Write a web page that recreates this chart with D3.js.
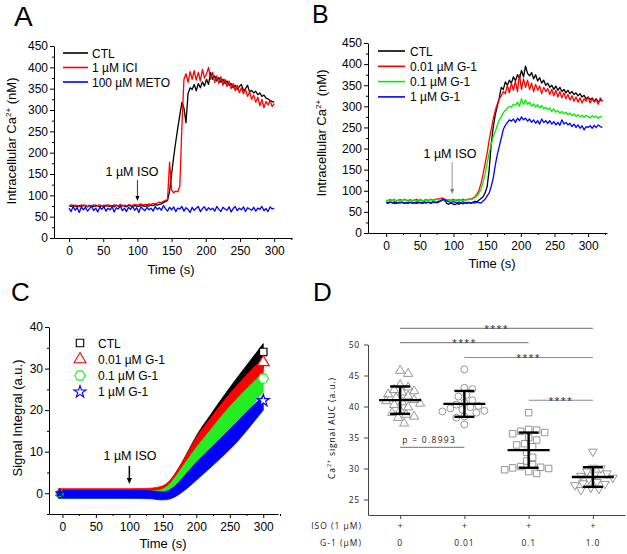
<!DOCTYPE html>
<html><head><meta charset="utf-8">
<script src="https://cdn.jsdelivr.net/npm/d3@7"></script>
<style>body{margin:0;background:#fff}svg{display:block}</style>
</head><body><svg id="c" width="627" height="554"></svg>
<script>
// ---------------- DATA ----------------
// Panel A (time step 3 s, 0..300 s)
const timeA = d3.range(0, 301, 3);
const ctlA = [
76,74,77,75,73,76,74,77,75,73,
76,75,74,77,75,73,76,74,77,75,
74,76,73,77,75,74,76,75,73,77,
75,74,76,75,74,77,75,74,76,75,
77,76,78,77,79,80,83,85,88,110,
150,190,225,258,288,318,305,270,338,352,
348,360,345,362,352,366,356,372,360,388,
372,380,368,376,365,372,362,368,358,362,
352,358,348,355,360,345,350,358,342,346,
340,344,336,340,332,335,328,326,322,320,
318];
const iciA = [
75,78,74,77,76,73,78,75,77,74,
77,75,78,74,76,78,75,77,74,78,
76,74,78,76,75,79,76,77,75,78,
77,76,79,77,78,80,77,79,78,80,
79,81,80,82,84,83,86,88,90,178,
112,106,110,108,122,260,372,385,365,390,
372,392,370,388,368,395,375,385,400,372,
388,365,380,362,378,358,372,355,368,350,
362,345,358,340,352,338,348,332,342,325,
335,318,330,310,325,305,320,312,322,308,
315];
const metoA = [
70,62,74,65,71,60,73,66,72,63,
69,75,64,70,61,72,67,74,63,70,
66,73,61,71,68,75,64,70,62,72,
67,74,65,71,60,73,68,64,72,66,
70,63,74,67,71,65,76,69,63,72,
66,73,62,70,68,74,63,71,67,60,
72,65,70,74,62,69,73,64,71,66,
70,63,74,67,62,72,68,65,73,61,
69,74,64,70,66,73,62,71,68,65,
72,63,70,67,74,64,69,62,73,68,
70];
const legendA = ["CTL", "1 \u00b5M ICI", "100 \u00b5M METO"];

// Panel B (time step 3 s, 0..321 s)
const timeB = d3.range(0, 322, 3);
const ctlB = [
73,71,74,72,70,73,71,74,72,70,
72,70,73,71,72,70,73,71,72,74,
72,73,71,74,72,73,75,76,78,77,
70,68,71,69,67,70,68,71,69,72,
70,72,71,73,75,74,78,82,86,95,
110,150,210,250,280,300,320,345,340,358,
350,362,355,370,360,375,365,385,370,395,
378,372,380,365,375,360,368,355,362,350,
355,345,350,340,348,338,345,335,340,332,
338,330,335,328,332,325,330,322,326,318,
322,316,320,312,318,310,315,312];
const g001B = [
78,76,79,77,80,76,78,79,77,80,
78,77,79,76,78,80,77,79,76,78,
79,77,80,78,79,81,80,82,83,80,
78,79,77,80,78,76,79,77,80,78,
79,81,80,83,86,92,102,118,140,165,
190,220,245,270,290,305,318,325,335,330,
350,332,355,338,360,335,375,340,365,345,
362,340,355,335,352,338,348,330,345,335,
342,328,340,325,338,322,335,320,332,318,
328,315,325,312,322,310,320,308,318,312,
322,308,318,310,316,305,320,312];
const g01B = [
76,78,75,77,79,76,78,75,77,79,
77,75,78,76,79,77,75,78,76,77,
78,76,79,77,78,80,78,77,79,76,
77,79,76,78,77,79,76,78,77,79,
78,80,79,81,84,88,95,105,120,140,
165,190,210,228,240,255,268,275,285,290,
295,300,298,305,302,310,300,318,305,315,
305,310,300,306,298,304,296,302,294,298,
292,296,288,294,286,290,284,288,282,286,
280,284,278,282,276,280,275,279,274,278,
276,272,278,274,277,271,276,274];
const g1B = [
72,70,73,71,74,70,72,71,73,70,
72,71,73,70,72,74,71,73,70,72,
71,73,70,72,74,71,73,76,80,78,
76,74,72,74,73,71,73,72,74,72,
71,73,70,72,71,73,72,71,76,80,
88,95,110,130,160,185,205,225,245,255,
262,268,265,270,262,272,266,275,268,272,
265,270,262,268,260,266,258,270,262,266,
260,266,258,264,256,262,255,268,258,262,
256,260,252,258,250,256,248,254,244,252,
250,254,248,255,250,256,252,250];
const legendB = ["CTL", "0.01 \u00b5M G-1", "0.1 \u00b5M G-1", "1 \u00b5M G-1"];

// Panel C: signal integral bands (lower / upper edge of each group of traces)
const timeC = [-6, 0, 50, 100, 130, 140, 150, 160, 170, 180, 190, 200, 220, 240, 260, 280, 300];
const ctlHiC = [0.8,0.8,0.8,0.8,0.9,1.1,1.5,2.8,5,7.8,10.8,13.8,18.6,23.2,27.6,31.8,36];
const ctlLoC = [-0.5,-0.5,-0.5,-0.5,-0.4,-0.3,0,0.6,1.6,3.2,5,7.2,11.6,16,20.4,25,30];
const g001HiC = [1.1,1.1,1.1,1.1,1.2,1.4,1.8,3,5.2,7.8,10.6,13.4,17.8,22,25.8,29.3,32.5];
const g001LoC = [-0.2,-0.2,-0.2,-0.2,-0.2,-0.1,0.2,0.8,1.9,3.6,5.6,7.6,11.8,16,20,24.2,28.5];
const g01HiC = [0.4,0.4,0.4,0.4,0.5,0.6,1.0,2.2,4.2,6.5,8.8,11,15,19,22.6,25.9,29];
const g01LoC = [-1.3,-1.3,-1.3,-1.3,-1.3,-1.2,-1.0,-0.5,0.4,1.8,3.4,5.2,8.8,12.5,16.2,20.3,24.5];
const g1HiC = [0.7,0.7,0.7,0.7,0.6,0.4,0.3,0.8,2,3.8,5.6,7.4,10.6,13.8,17,20.3,23.5];
const g1LoC = [-1.2,-1.2,-1.2,-1.2,-1.3,-1.5,-1.6,-1.4,-0.7,0.4,1.7,3.1,6,9,12.2,16,20];
const endMeanC = [34, 31.5, 27.6, 22.3];
const legendC = ["CTL", "0.01 \u00b5M G-1", "0.1 \u00b5M G-1", "1 \u00b5M G-1"];

// Panel D: AUC per cell
const isoLabelsD = ["+", "+", "+", "+"];
const g1LabelsD = ["0", "0.01", "0.1", "1.0"];
const aucD = [
  [45.7,45.2,43.4,43.0,42.6,42.4,42.2,41.9,41.6,41.3,41.0,40.8,40.6,40.4,40.2,39.8,39.3,38.9,38.6,38.3,38.1,37.2],
  [46.0,43.0,42.8,41.9,41.6,41.0,40.6,40.3,40.1,39.9,39.7,39.5,39.3,39.2,39.0,38.4,38.2,37.1],
  [39.0,36.3,36.2,36.0,35.8,35.6,35.0,34.6,34.0,33.8,33.5,32.6,31.8,31.2,30.6,30.3,30.2,30.1,30.0,29.8,29.5,29.2],
  [32.8,30.2,30.1,29.6,29.3,29.1,28.9,28.6,28.4,27.9,27.6,27.7,27.4,27.0,26.8,26.6]
];
// significance brackets: [from group, to group, y value, label]
const sigD = [
  [0, 3, 52.6, "****"],
  [0, 2, 50.3, "****"],
  [1, 3, 47.9, "****"],
  [2, 3, 41.0, "****"],
  [0, 1, 33.4, "p = 0.8993"]
];

// ---------------- DRAW ----------------
const svg = d3.select("#c");
const F = "'Liberation Sans', Arial, sans-serif";
const FD = "'Open Sans', 'DejaVu Sans', sans-serif";

function styleAxis(g, size) {
  g.selectAll("path.domain").attr("stroke", "#000").attr("stroke-width", 1);
  g.selectAll(".tick line").attr("stroke", "#000").attr("stroke-width", 1);
  g.selectAll("text").attr("font-family", F).attr("font-size", size).attr("fill", "#000");
}
function axes(x, y, xMaj, xMin, yMaj, yMin, yFmt) {
  const y0 = y.range()[0], x0 = x.range()[0];
  const gx = svg.append("g").attr("transform", `translate(0,${y0})`);
  gx.call(d3.axisBottom(x).tickValues(xMin).tickSize(2).tickSizeOuter(0).tickFormat(""));
  gx.append("g").call(d3.axisBottom(x).tickValues(xMaj).tickSize(4).tickSizeOuter(0).tickPadding(4))
    .select("path.domain").remove();
  styleAxis(gx, 12);
  const gy = svg.append("g").attr("transform", `translate(${x0},0)`);
  gy.call(d3.axisLeft(y).tickValues(yMin).tickSize(2).tickSizeOuter(0).tickFormat(""));
  gy.append("g").call(d3.axisLeft(y).tickValues(yMaj).tickSize(4).tickSizeOuter(0).tickPadding(2).tickFormat(yFmt || d3.format("d")))
    .select("path.domain").remove();
  styleAxis(gy, 12);
}
function ylabel(x, y, parts, size, font, ls) {
  const t = svg.append("text").attr("transform", `translate(${x},${y}) rotate(-90)`)
    .attr("text-anchor", "middle").attr("font-family", font).attr("font-size", size)
    .attr("letter-spacing", ls || 0);
  t.append("tspan").text(parts[0]);
  t.append("tspan").attr("font-size", size * 0.62).attr("dy", -size * 0.42).text(parts[1]);
  t.append("tspan").attr("dy", size * 0.42).text(parts[2]);
}
function text(x, y, s, size, anchor, font, fill, ls) {
  return svg.append("text").attr("x", x).attr("y", y).text(s)
    .attr("font-family", font || F).attr("font-size", size)
    .attr("text-anchor", anchor || "start").attr("fill", fill || "#000")
    .attr("letter-spacing", ls || 0);
}
function arrow(x, y1, y2, color, w, hw, hl) {
  svg.append("line").attr("x1", x).attr("x2", x).attr("y1", y1).attr("y2", y2 - hl + 1)
    .attr("stroke", color).attr("stroke-width", w);
  svg.append("path").attr("d", `M${x - hw},${y2 - hl}L${x + hw},${y2 - hl}L${x},${y2}Z`).attr("fill", color);
}

// ----- Panel A -----
{
  const x = d3.scaleLinear().domain([-22, 326]).range([54, 292]);
  const y = d3.scaleLinear().domain([0, 450]).range([238, 46]);
  axes(x, y, d3.range(0, 301, 50), d3.range(25, 326, 50), d3.range(0, 451, 50), d3.range(25, 450, 50));
  const cols = ["#000000", "#ff0000", "#0000ff"];
  [ctlA, iciA, metoA].forEach((s, k) => {
    svg.append("path").datum(s).attr("fill", "none").attr("stroke", cols[k]).attr("stroke-width", 1.3)
      .attr("stroke-linejoin", "round")
      .attr("d", d3.line().x((d, i) => x(timeA[i])).y(d => y(d)));
  });
  legendA.forEach((s, k) => {
    const ly = 53 + k * 14.5;
    svg.append("line").attr("x1", 63).attr("x2", 88).attr("y1", ly).attr("y2", ly)
      .attr("stroke", cols[k]).attr("stroke-width", 1.6);
    text(92, ly + 4.5, s, 12);
  });
  text(132, 176, "1 \u00b5M ISO", 12.5, "middle");
  arrow(x(100), 180, 201, "#000", 0.8, 2, 5);
  text(171, 274, "Time (s)", 13, "middle");
  ylabel(16, 141, ["Intracellular Ca", "2+", " (nM)"], 13, F);
  text(14, 26, "A", 28);
}

// ----- Panel B -----
{
  const x = d3.scaleLinear().domain([-27, 328]).range([368, 607]);
  const y = d3.scaleLinear().domain([0, 450]).range([233, 43]);
  axes(x, y, d3.range(0, 301, 50), d3.range(25, 326, 50), d3.range(0, 451, 50), d3.range(25, 450, 50));
  const cols = ["#000000", "#ff0000", "#00ee00", "#0000ff"];
  [ctlB, g001B, g01B, g1B].forEach((s, k) => {
    svg.append("path").datum(s).attr("fill", "none").attr("stroke", cols[k]).attr("stroke-width", 1.3)
      .attr("stroke-linejoin", "round")
      .attr("d", d3.line().x((d, i) => x(timeB[i])).y(d => y(d)));
  });
  legendB.forEach((s, k) => {
    const ly = 51 + k * 15.3;
    svg.append("line").attr("x1", 378).attr("x2", 405).attr("y1", ly).attr("y2", ly)
      .attr("stroke", cols[k]).attr("stroke-width", 1.6);
    text(410, ly + 4.5, s, 12);
  });
  text(450, 158, "1 \u00b5M ISO", 12.5, "middle");
  arrow(x(98), 162, 194, "#777", 0.8, 2, 5);
  text(492, 268, "Time (s)", 13, "middle");
  ylabel(326, 133, ["Intracellular Ca", "2+", " (nM)"], 13, F);
  text(312, 23, "B", 25);
}

// ----- Panel C -----
const hexSym = { draw(ctx, size) {
  const r = Math.sqrt(size / (1.5 * Math.sqrt(3)));
  for (let i = 0; i < 6; i++) {
    const a = Math.PI / 3 * i;
    const px = r * Math.cos(a), py = r * Math.sin(a);
    i ? ctx.lineTo(px, py) : ctx.moveTo(px, py);
  }
  ctx.closePath();
}};
{
  const x = d3.scaleLinear().domain([-20, 322]).range([49, 278]);
  const y = d3.scaleLinear().domain([-5, 40]).range([514, 327]);
  axes(x, y, d3.range(0, 301, 50), d3.range(25, 326, 50), d3.range(0, 41, 10), d3.range(-5, 40, 10));
  const cols = ["#000000", "#ff0000", "#22ee22", "#0000ff"];
  const bands = [[ctlLoC, ctlHiC], [g001LoC, g001HiC], [g01LoC, g01HiC], [g1LoC, g1HiC]];
  const syms = [d3.symbolSquare, d3.symbolTriangle, hexSym, d3.symbolStar];
  const sizes = [55, 60, 70, 45];
  bands.forEach(([lo, hi], k) => {
    svg.append("path").datum(timeC).attr("fill", cols[k]).attr("stroke", cols[k]).attr("stroke-width", 0.8)
      .attr("d", d3.area().curve(d3.curveMonotoneX).x(t => x(t))
        .y0((t, i) => y(lo[i])).y1((t, i) => y(hi[i])));
  });
  endMeanC.forEach((m, k) => {
    svg.append("path").attr("transform", `translate(${x(-4)},${y(0)})`)
      .attr("d", d3.symbol(syms[k], sizes[k] * 0.5)).attr("fill", "none").attr("stroke", cols[k]).attr("stroke-width", 1);
    svg.append("path").attr("transform", `translate(${x(300)},${y(m)})`)
      .attr("d", d3.symbol(syms[k], sizes[k])).attr("fill", "#fff").attr("stroke", cols[k]).attr("stroke-width", 1.2);
  });
  legendC.forEach((s, k) => {
    const ly = 343 + k * 16.3;
    svg.append("path").attr("transform", `translate(80,${ly})`)
      .attr("d", d3.symbol(syms[k], sizes[k])).attr("fill", "none").attr("stroke", cols[k]).attr("stroke-width", 1.1);
    text(98, ly + 4.5, s, 12);
  });
  text(130, 460, "1 \u00b5M ISO", 12.5, "middle");
  arrow(x(100), 466, 484, "#000", 1.5, 2.6, 6);
  text(163, 548, "Time (s)", 13, "middle");
  ylabel(22, 418, ["Signal Integral (a.u.)", "", ""], 13, F);
  text(11, 301, "C", 26);
}

// ----- Panel D -----
{
  const y = d3.scaleLinear().domain([22.5, 50]).range([515, 344.5]);
  const x = d3.scalePoint().domain(g1LabelsD).range([368, 625]).padding(0.5);
  const gy = svg.append("g").attr("transform", "translate(368,0)")
    .call(d3.axisLeft(y).tickValues([25, 30, 35, 40, 45, 50]).tickSize(4).tickSizeOuter(0).tickPadding(4));
  gy.selectAll("path.domain").attr("stroke", "#444");
  gy.selectAll(".tick line").attr("stroke", "#444");
  gy.selectAll("text").attr("font-family", FD).attr("font-size", 8.5).attr("letter-spacing", 0.8).attr("fill", "#222");
  const gx = svg.append("g").attr("transform", "translate(0,515)")
    .call(d3.axisBottom(x).tickSize(4).tickSizeOuter(0).tickFormat(""));
  gx.selectAll("path.domain").attr("stroke", "#444");
  gx.selectAll(".tick line").attr("stroke", "#444");

  const syms = [d3.symbolTriangle, d3.symbolCircle, d3.symbolSquare, d3.symbolTriangle];
  const sizes = [36, 38, 42, 32];
  const rot = [0, 0, 0, 180];
  const yoff = [-0.5, 0, 0, 0.5];
  aucD.forEach((vals, k) => {
    const cx = x(g1LabelsD[k]);
    const placed = [];
    vals.map(v => v).sort((a, b) => b - a).forEach(v => {
      const py = y(v);
      let off = 0;
      for (let j = 0; j < 60; j++) {
        const o = (j % 2 ? 1 : -1) * Math.ceil(j / 2) * 2;
        if (placed.every(p => (p[0] - o) ** 2 + (p[1] - py) ** 2 >= 49)) { off = o; break; }
      }
      placed.push([off, py]);
      svg.append("path").attr("transform", `translate(${cx + off},${py + yoff[k]}) rotate(${rot[k]})`)
        .attr("d", d3.symbol(syms[k], sizes[k])).attr("fill", "none").attr("stroke", "#8a8a8a").attr("stroke-width", 0.9);
    });
    const m = d3.mean(vals), sd = d3.deviation(vals);
    const bar = svg.append("g").attr("stroke", "#000").attr("stroke-width", 2.4);
    bar.append("line").attr("x1", cx - 21).attr("x2", cx + 21).attr("y1", y(m)).attr("y2", y(m));
    bar.append("line").attr("x1", cx).attr("x2", cx).attr("y1", y(m - sd)).attr("y2", y(m + sd));
    [m - sd, m + sd].forEach(v => bar.append("line").attr("x1", cx - 10).attr("x2", cx + 10).attr("y1", y(v)).attr("y2", y(v)));
    text(cx, 529, isoLabelsD[k], 8.5, "middle", FD, "#222");
    text(cx, 546, g1LabelsD[k], 8.5, "middle", FD, "#222", 0.8);
  });
  text(362, 529, "ISO (1 \u00b5M)", 8.5, "end", FD, "#222", 1);
  text(362, 546, "G-1 (\u00b5M)", 8.5, "end", FD, "#222", 1);

  sigD.forEach(([a, b, v, lab]) => {
    const x1 = x(g1LabelsD[a]), x2 = x(g1LabelsD[b]);
    svg.append("line").attr("x1", x1).attr("x2", x2).attr("y1", y(v)).attr("y2", y(v))
      .attr("stroke", "#8a8a8a").attr("stroke-width", 1.1);
    if (lab.startsWith("p")) text(x1 + 2, y(v) - 4, lab, 8.5, "start", FD, "#222", 1.3);
    else text((x1 + x2) / 2, y(v) + 3.5, lab, 9, "middle", FD, "#222", 1.2);
  });
  ylabel(335, 428, ["Ca", "2+", " signal AUC (a.u.)"], 8.5, FD, 0.9);
  text(313, 301, "D", 26);
}
</script></body></html>
